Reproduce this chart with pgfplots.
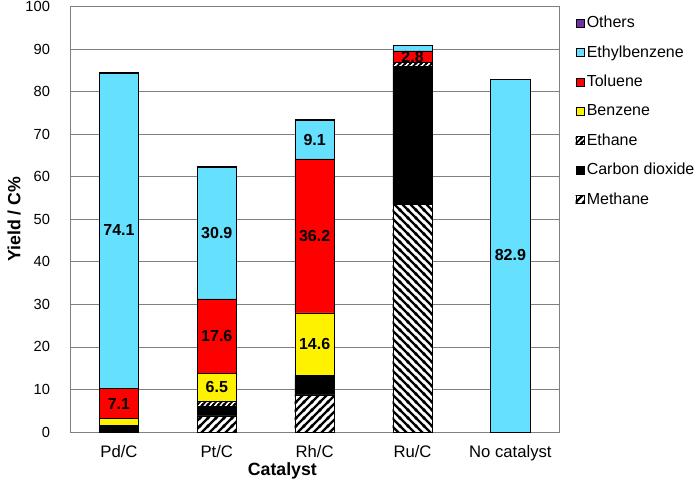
\documentclass[border=0pt]{standalone}
\usepackage{pgfplots}
\pgfplotsset{compat=1.18}
\usepackage{fontspec}
\setmainfont{Liberation Sans}
\usetikzlibrary{patterns}
\definecolor{eb}{RGB}{102,224,255}
\definecolor{oth}{RGB}{112,48,160}
\definecolor{gridc}{RGB}{128,128,128}
\pgfdeclarepatternformonly{hatchNE}{\pgfqpoint{-1pt}{-1pt}}{\pgfqpoint{7pt}{7pt}}{\pgfqpoint{6pt}{6pt}}{%
  \pgfsetlinewidth{1.8pt}%
  \pgfpathmoveto{\pgfqpoint{-1pt}{-1pt}}\pgfpathlineto{\pgfqpoint{7pt}{7pt}}%
  \pgfpathmoveto{\pgfqpoint{-1pt}{5pt}}\pgfpathlineto{\pgfqpoint{1pt}{7pt}}%
  \pgfpathmoveto{\pgfqpoint{5pt}{-1pt}}\pgfpathlineto{\pgfqpoint{7pt}{1pt}}%
  \pgfusepath{stroke}}
\pgfdeclarepatternformonly{hatchNW}{\pgfqpoint{-1pt}{-1pt}}{\pgfqpoint{7pt}{7pt}}{\pgfqpoint{6pt}{6pt}}{%
  \pgfsetlinewidth{1.8pt}%
  \pgfpathmoveto{\pgfqpoint{-1pt}{7pt}}\pgfpathlineto{\pgfqpoint{7pt}{-1pt}}%
  \pgfpathmoveto{\pgfqpoint{-1pt}{1pt}}\pgfpathlineto{\pgfqpoint{1pt}{-1pt}}%
  \pgfpathmoveto{\pgfqpoint{5pt}{7pt}}\pgfpathlineto{\pgfqpoint{7pt}{5pt}}%
  \pgfusepath{stroke}}
\pgfdeclarepatternformonly{hatchNEfine}{\pgfqpoint{-1pt}{-1pt}}{\pgfqpoint{5pt}{5pt}}{\pgfqpoint{4pt}{4pt}}{%
  \pgfsetlinewidth{1.3pt}%
  \pgfpathmoveto{\pgfqpoint{-1pt}{-1pt}}\pgfpathlineto{\pgfqpoint{5pt}{5pt}}%
  \pgfpathmoveto{\pgfqpoint{-1pt}{3pt}}\pgfpathlineto{\pgfqpoint{1pt}{5pt}}%
  \pgfpathmoveto{\pgfqpoint{3pt}{-1pt}}\pgfpathlineto{\pgfqpoint{5pt}{1pt}}%
  \pgfusepath{stroke}}
\begin{document}
\begin{tikzpicture}
\begin{axis}[
  at={(0,0)}, anchor=south west,
  scale only axis, width=367pt, height=319pt,
  ybar stacked, bar width=29.5pt,
  xmin=-0.5, xmax=4.5, ymin=0, ymax=100,
  ytick={0,10,20,30,40,50,60,70,80,90,100},
  yticklabels={0,10,20,30,40,50,60,70,80,90,100},
  xtick={0,1,2,3,4},
  xticklabels={Pd/C,Pt/C,Rh/C,Ru/C,No catalyst},
  extra x ticks={0.5,1.5,2.5,3.5},
  extra x tick labels={},
  extra x tick style={major tick length=3pt, tick style={gridc}},
  xtick style={draw=none},
  ytick style={draw=none},
  tick align=inside,
  ymajorgrids, major grid style={gridc, line width=0.6pt},
  axis line style={gridc, line width=0.6pt},
  yticklabel style={font=\fontsize{11}{13}\selectfont, xshift=-11.5pt},
  xticklabel style={font=\fontsize{12.5}{14}\selectfont, yshift=-6.5pt},
  xlabel={Catalyst}, ylabel={Yield / C\%},
  xlabel style={font=\fontsize{13.3}{15}\selectfont\bfseries, at={(axis description cs:0.434,-0.092)}, anchor=center},
  ylabel style={font=\fontsize{13.3}{15}\selectfont\bfseries, at={(axis description cs:-0.114,0.5)}, anchor=center},
  legend style={at={(1,1)}, anchor=north west, xshift=9pt, yshift=-3pt, draw=none, fill=none,
    font=\fontsize{12}{14}\selectfont, row sep=7.9pt},
  legend cell align=left,
  reverse legend,
  legend image code/.code={\draw[#1, draw=black, line width=0.4pt] (0pt,-3pt) rectangle (6pt,3pt);},
  every axis plot/.append style={draw=black, line width=0.5pt},
  legend entries={Methane,,Carbon dioxide,Ethane,Benzene,Toluene,Ethylbenzene,Others},
]
\addplot[fill=white, postaction={pattern=hatchNE}]
  coordinates {(0,0) (1,3.8) (2,8.7) (3,0) (4,0)};
\addplot[fill=white, postaction={pattern=hatchNW}]
  coordinates {(0,0) (1,0) (2,0) (3,53.5) (4,0)};
\addplot[fill=black]
  coordinates {(0,1.6) (1,2.2) (2,4.3) (3,32.5) (4,0)};
\addplot[fill=white, postaction={pattern=hatchNEfine}]
  coordinates {(0,0) (1,1.2) (2,0.4) (3,0.8) (4,0)};
\addplot[fill=yellow]
  coordinates {(0,1.6) (1,6.5) (2,14.6) (3,0) (4,0)};
\addplot[fill=red]
  coordinates {(0,7.1) (1,17.6) (2,36.2) (3,2.8) (4,0)};
\addplot[fill=eb]
  coordinates {(0,74.1) (1,30.9) (2,9.1) (3,1.2) (4,82.9)};
\addplot[fill=oth]
  coordinates {(0,0.2) (1,0.2) (2,0.1) (3,0) (4,0)};
\coordinate (L1) at (axis cs:0,47.4);
\coordinate (L2) at (axis cs:0,6.7);
\coordinate (L3) at (axis cs:1,46.9);
\coordinate (L4) at (axis cs:1,22.6);
\coordinate (L5) at (axis cs:1,10.5);
\coordinate (L6) at (axis cs:2,68.7);
\coordinate (L7) at (axis cs:2,46.1);
\coordinate (L8) at (axis cs:2,20.7);
\coordinate (L9) at (axis cs:3,88.2);
\coordinate (L10) at (axis cs:4,41.5);
\end{axis}
\begin{scope}[every node/.style={font=\fontsize{12}{14}\selectfont\bfseries}]
\node at (L1) {74.1};
\node at (L2) {7.1};
\node at (L3) {30.9};
\node at (L4) {17.6};
\node at (L5) {6.5};
\node at (L6) {9.1};
\node at (L7) {36.2};
\node at (L8) {14.6};
\node at (L9) {2.8};
\node at (L10) {82.9};
\end{scope}
\pgfresetboundingbox
\path[use as bounding box] (-52.5pt,-43.5pt) rectangle (472.5pt,324pt);
\end{tikzpicture}
\end{document}
